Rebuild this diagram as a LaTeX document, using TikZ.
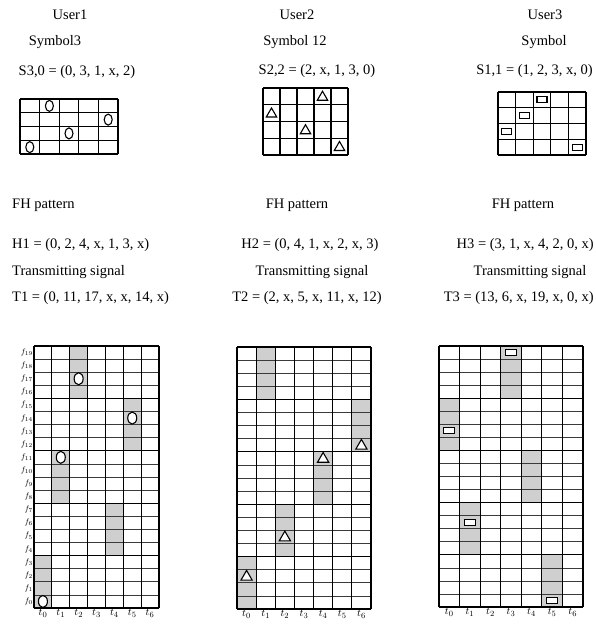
\documentclass[tikz,border=0pt]{standalone}
\usepackage{fontspec}
\setmainfont{Liberation Serif}
\usetikzlibrary{shapes.geometric}
\definecolor{slotGrey}{HTML}{CFCFCF}
\definecolor{lineGrey}{HTML}{3A3A3A}

\begin{document}
\begin{tikzpicture}[x=1pt,y=-1pt,
  txt/.style={font=\fontsize{14.5}{16}\selectfont,inner sep=0pt},
  cellline/.style={lineGrey,line width=0.7pt},
  blockline/.style={black,line width=1.1pt},
  slot/.style={fill=slotGrey},
  circ/.style={draw,ellipse,fill=white,line width=1.1pt,inner sep=0pt,
               minimum width=9pt,minimum height=12pt},
  tri/.style={draw,regular polygon,regular polygon sides=3,fill=white,
              line width=1.1pt,inner sep=0pt,minimum size=13pt},
  rbox/.style={draw,rectangle,fill=white,line width=1.1pt,inner sep=0pt,
               minimum width=11pt,minimum height=6pt},
  flab/.style={font=\fontsize{8.5}{8.5}\selectfont,anchor=east,inner sep=1pt},
  tlab/.style={font=\fontsize{11}{11}\selectfont,anchor=north,inner sep=1pt}]
\useasboundingbox (0,0) rectangle (595,624);

% headers
\node[txt] (u1) at (70,15) {User1};
\node[txt] (u2) at (297,15) {User2};
\node[txt] (u3) at (545,15) {User3};
\node[txt] (sym1) at (55,42) {Symbol3};
\node[txt] (sym2) at (295,42) {Symbol 12};
\node[txt] (sym3) at (544,42) {Symbol};
\node[txt] (s1) at (77,72) {S3,0 = (0, 3, 1, x, 2)};
\node[txt] (s2) at (317,71) {S2,2 = (2, x, 1, 3, 0)};
\node[txt,anchor=east] (s3) at (593,71) {S1,1 = (1, 2, 3, x, 0)};

% symbol grids
\begin{scope}[shift={(20,154)},x=19.6pt,y=13.75pt]
  \foreach \i in {0,...,5} \draw[blockline] (\i,0) -- (\i,4);
  \foreach \j in {0,...,4} \draw[blockline] (0,\j) -- (5,\j);
  \foreach \c/\r [count=\k] in {0/0,1/3,2/1,4/2}
    \node[circ,minimum width=8pt,minimum height=11pt] (sa\k) at (\c+0.5,\r+0.5) {};
\end{scope}
\begin{scope}[shift={(263,155)},x=17pt,y=16.75pt]
  \foreach \i in {0,...,5} \draw[blockline] (\i,0) -- (\i,4);
  \foreach \j in {0,...,4} \draw[blockline] (0,\j) -- (5,\j);
  \foreach \c/\r [count=\k] in {0/2,2/1,3/3,4/0}
    \node[tri,minimum size=12pt] (sb\k) at (\c+0.5,\r+0.45) {};
\end{scope}
\begin{scope}[shift={(498,155)},x=17.6pt,y=15.75pt]
  \foreach \i in {0,...,5} \draw[blockline] (\i,0) -- (\i,4);
  \foreach \j in {0,...,4} \draw[blockline] (0,\j) -- (5,\j);
  \foreach \c/\r [count=\k] in {0/1,1/2,2/3,4/0}
    \node[rbox,minimum width=10pt] (sc\k) at (\c+0.5,\r+0.5) {};
\end{scope}

% hopping patterns
\node[txt,anchor=west] (fh1) at (12,205) {FH pattern};
\node[txt] (fh2) at (297,205) {FH pattern};
\node[txt] (fh3) at (523,205) {FH pattern};
\node[txt,anchor=west] (h1) at (12,245) {H1 = (0, 2, 4, x, 1, 3, x)};
\node[txt] (h2) at (310,245) {H2 = (0, 4, 1, x, 2, x, 3)};
\node[txt,anchor=east] (h3) at (594,245) {H3 = (3, 1, x, 4, 2, 0, x)};
\node[txt,anchor=west] (tx1) at (12,272) {Transmitting signal};
\node[txt] (tx2) at (312,272) {Transmitting signal};
\node[txt] (tx3) at (530,272) {Transmitting signal};
\node[txt,anchor=west] (t1) at (12,298) {T1 = (0, 11, 17, x, x, 14, x)};
\node[txt] (t2) at (307,298) {T2 = (2, x, 5, x, 11, x, 12)};
\node[txt,anchor=east] (t3) at (594,298) {T3 = (13, 6, x, 19, x, 0, x)};

% time-frequency grids
\begin{scope}[shift={(34,608)},x=17.86pt,y=13.1pt]
  \foreach \c/\r in {0/0,1/8,2/16,4/4,5/12}
    \fill[slot] (\c,\r) rectangle (\c+1,\r+4);
  \foreach \j in {0,...,20} \draw[cellline] (0,\j) -- (7,\j);
  \foreach \j in {0,4,...,20} \draw[blockline] (0,\j) -- (7,\j);
  \foreach \i in {0,...,7} \draw[blockline] (\i,0) -- (\i,20);
  \foreach \j in {0,...,19} \node[flab] (fa\j) at (0,\j+0.5) {$f_{\j}$};
  \foreach \i in {0,...,6} \node[tlab] (ta\i) at (\i+0.5,0) {$t_{\i}$};
  \foreach \c/\r [count=\k] in {0/0,1/11,2/17,5/14}
    \node[circ] (ca\k) at (\c+0.5,\r+0.5) {};
\end{scope}
\begin{scope}[shift={(237,609)},x=19.14pt,y=13.1pt]
  \foreach \c/\r in {0/0,1/16,2/4,4/8,6/12}
    \fill[slot] (\c,\r) rectangle (\c+1,\r+4);
  \foreach \j in {0,...,20} \draw[cellline] (0,\j) -- (7,\j);
  \foreach \j in {0,4,...,20} \draw[blockline] (0,\j) -- (7,\j);
  \foreach \i in {0,...,7} \draw[blockline] (\i,0) -- (\i,20);
  \foreach \i in {0,...,6} \node[tlab] (tb\i) at (\i+0.5,0) {$t_{\i}$};
  \foreach \c/\r [count=\k] in {0/2,2/5,4/11,6/12}
    \node[tri] (cb\k) at (\c+0.5,\r+0.45) {};
\end{scope}
\begin{scope}[shift={(439,607)},x=20.57pt,y=13.05pt]
  \foreach \c/\r in {0/12,1/4,3/16,4/8,5/0}
    \fill[slot] (\c,\r) rectangle (\c+1,\r+4);
  \foreach \j in {0,...,20} \draw[cellline] (0,\j) -- (7,\j);
  \foreach \j in {0,4,...,20} \draw[blockline] (0,\j) -- (7,\j);
  \foreach \i in {0,...,7} \draw[blockline] (\i,0) -- (\i,20);
  \foreach \i in {0,...,6} \node[tlab] (tc\i) at (\i+0.5,0) {$t_{\i}$};
  \foreach \c/\r [count=\k] in {0/13,1/6,3/19,5/0}
    \node[rbox] (cc\k) at (\c+0.5,\r+0.5) {};
\end{scope}
\end{tikzpicture}
\end{document}
